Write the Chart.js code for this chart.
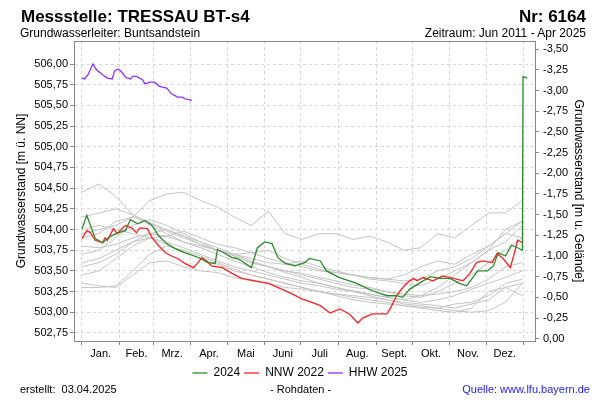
<!DOCTYPE html>
<html><head><meta charset="utf-8">
<script src="https://cdn.jsdelivr.net/npm/chart.js@4/dist/chart.umd.min.js"></script>
<style>
html,body{margin:0;padding:0;background:#fff;}
#wrap{position:relative;width:600px;height:400px;font-family:"Liberation Sans",Arial,sans-serif;color:#000;overflow:hidden;}
#c{position:absolute;left:0;top:0;}
.t{position:absolute;white-space:nowrap;line-height:1;}
</style></head><body>
<div id="wrap">
<canvas id="c" width="600" height="400"></canvas>
<div class="t" style="left:21px;top:8px;font-size:17px;font-weight:bold;">Messstelle: TRESSAU BT-s4</div>
<div class="t" style="right:14px;top:8px;font-size:17px;font-weight:bold;">Nr: 6164</div>
<div class="t" style="left:20px;top:27px;font-size:12px;">Grundwasserleiter: Buntsandstein</div>
<div class="t" style="right:14px;top:27px;font-size:12px;">Zeitraum: Jun 2011 - Apr 2025</div>
<div class="t" style="left:20px;top:384px;font-size:11px;">erstellt:&nbsp; 03.04.2025</div>
<div class="t" style="left:270px;top:384px;font-size:11px;">- Rohdaten -</div>
<div class="t" style="right:10px;top:384px;font-size:11px;color:#1a1aff;">Quelle: www.lfu.bayern.de</div>
</div>
<script>
// ---- categories / ticks ----
const months = ['Jan.','Feb.','Mrz.','Apr.','Mai','Juni','Juli','Aug.','Sept.','Okt.','Nov.','Dez.'];
const monthStarts = [0,31,59,90,120,151,181,212,243,273,304,334,365];
const leftTicks = [502.75,503.00,503.25,503.50,503.75,504.00,504.25,504.50,504.75,505.00,505.25,505.50,505.75,506.00];
const rightTicks = [0,-0.25,-0.5,-0.75,-1.0,-1.25,-1.5,-1.75,-2.0,-2.25,-2.5,-2.75,-3.0,-3.25,-3.5];
const groundLevel = 502.68;

// ---- series: 2024 ----
const days2024 = [0,4,11,17,21,25,30,36,40,46,52,58,63,70,77,85,93,98,104,110,112,117,124,128,132,140,145,151,157,162,168,176,184,188,197,202,213,227,240,252,260,265,271,282,288,296,304,312,318,323,327,335,340,344,350,355,360,364,364.5,368];
const level2024 = [504.01,504.17,503.89,503.84,503.89,503.93,503.96,503.99,504.12,504.07,504.11,504.05,503.93,503.83,503.77,503.72,503.68,503.65,503.60,503.59,503.76,503.72,503.66,503.65,503.62,503.54,503.78,503.85,503.83,503.66,503.59,503.56,503.60,503.65,503.62,503.50,503.42,503.35,503.26,503.20,503.20,503.18,503.28,503.38,503.43,503.41,503.41,503.35,503.32,503.42,503.50,503.50,503.56,503.72,503.68,503.81,503.78,503.75,505.85,505.83];

// ---- series: NNW 2022 ----
const days2022 = [0,4,7,11,17,19,21,26,29,33,36,41,45,48,54,58,63,69,74,79,85,92,96,99,103,107,116,124,132,143,154,165,174,182,186,197,205,213,221,228,232,240,252,255,260,263,269,274,277,282,290,298,307,315,321,326,331,339,343,348,354,358,360,364];
const level2022 = [503.89,503.99,503.96,503.87,503.84,503.90,503.87,504.01,503.95,504.01,504.05,504.02,503.96,504.02,504.01,503.90,503.81,503.72,503.68,503.65,503.59,503.54,503.60,503.66,503.62,503.56,503.54,503.47,503.41,503.38,503.35,503.28,503.22,503.16,503.14,503.08,502.99,503.04,502.98,502.87,502.93,502.98,502.98,503.05,503.20,503.26,503.36,503.41,503.38,503.42,503.38,503.44,503.41,503.38,503.48,503.60,503.62,503.60,503.71,503.65,503.54,503.75,503.87,503.84];

// ---- series: HHW 2025 ----
const days2025 = [0,2,5,9,12,17,21,25,27,30,33,36,40,42,45,50,52,56,60,64,70,74,79,83,85,91];
const level2025 = [505.83,505.82,505.87,506.00,505.93,505.87,505.83,505.82,505.92,505.94,505.90,505.84,505.82,505.85,505.85,505.81,505.76,505.78,505.78,505.73,505.71,505.64,505.60,505.60,505.58,505.56];

// ---- other years (grey), every 14 days ----
const greyDays = [0,14,28,42,56,70,84,98,112,126,140,154,168,182,196,210,224,238,252,266,280,294,308,322,336,350,364];
const greyA = [504.45,504.55,504.40,504.18,504.08,504.00,503.92,503.82,503.75,503.68,503.60,503.55,503.50,503.47,503.42,503.38,503.33,503.30,503.25,503.22,503.20,503.22,503.25,503.30,503.40,503.55,503.60];
const greyB = [503.95,504.00,504.05,504.15,504.35,504.43,504.45,504.35,504.27,504.15,504.05,504.22,503.95,503.88,503.95,503.95,503.88,503.92,503.85,503.75,503.78,503.95,503.90,504.05,504.20,504.20,504.35];
const greyC = [504.15,504.20,504.25,504.18,504.05,503.95,503.85,503.78,503.70,503.62,503.55,503.48,503.42,503.38,503.35,503.30,503.25,503.22,503.18,503.15,503.12,503.15,503.20,503.28,503.35,503.42,503.50];
const greyD = [503.90,503.95,504.10,504.15,504.08,503.98,503.90,503.82,503.75,503.68,503.60,503.55,503.50,503.45,503.40,503.35,503.30,503.28,503.25,503.20,503.18,503.25,503.35,503.45,503.60,503.75,503.90];
const greyE = [503.70,503.75,503.90,504.05,504.12,504.05,503.95,503.85,503.78,503.70,503.62,503.55,503.48,503.42,503.35,503.30,503.26,503.22,503.18,503.15,503.20,503.30,503.45,503.60,503.75,504.00,504.10];
const greyF = [503.55,503.60,503.70,503.85,503.95,504.00,503.92,503.85,503.75,503.70,503.65,503.60,503.58,503.62,503.55,503.50,503.45,503.42,503.40,503.45,503.55,503.62,503.58,503.70,503.80,503.95,503.90];
const greyG = [503.45,503.50,503.65,503.80,503.90,503.85,503.78,503.70,503.62,503.55,503.50,503.45,503.40,503.35,503.32,503.28,503.25,503.20,503.15,503.10,503.08,503.05,503.10,503.12,503.20,503.35,503.40];
const greyH = [503.30,503.30,503.32,503.50,503.70,503.80,503.75,503.68,503.60,503.52,503.45,503.40,503.35,503.30,503.25,503.22,503.18,503.15,503.12,503.08,503.05,503.02,503.00,503.05,503.25,503.30,503.20];
const greyI = [503.35,503.32,503.30,503.45,503.60,503.62,503.55,503.50,503.48,503.42,503.38,503.35,503.30,503.28,503.25,503.22,503.20,503.18,503.15,503.12,503.10,503.08,503.05,503.10,503.15,503.30,503.35];
const greyJ = [503.80,503.78,503.82,503.90,503.95,503.92,503.85,503.80,503.75,503.70,503.72,503.75,503.65,503.58,503.52,503.48,503.45,503.42,503.40,503.38,503.40,503.50,503.55,503.65,503.80,503.95,504.10];
const greyK = [503.60,503.65,503.75,503.85,503.90,503.82,503.72,503.65,503.58,503.50,503.45,503.40,503.35,503.30,503.25,503.20,503.15,503.12,503.10,503.08,503.06,503.05,503.02,503.00,503.02,503.12,503.35];
const greyL = [504.00,504.05,504.00,503.95,503.90,503.92,503.98,503.90,503.82,503.78,503.72,503.65,503.60,503.55,503.50,503.48,503.45,503.40,503.38,503.35,503.32,503.40,503.50,503.60,503.75,503.85,504.05];
const greySeries = [greyA,greyB,greyC,greyD,greyE,greyF,greyG,greyH,greyI,greyJ,greyK,greyL];

// ---- build ----
const pts = (xs, ys) => xs.map((x, i) => ({x: x, y: ys[i]}));
const fmt = v => (Math.abs(v) < 1e-9 ? 0 : v).toFixed(2).replace('.', ',');
const midMonths = monthStarts.slice(0, 12).map((s, i) => (s + monthStarts[i + 1]) / 2);
const xMin = -6.6, xMax = 374.4;
const yMin = 502.653, yMax = 506.278;

const datasets = [
  {label: '2024', data: pts(days2024, level2024), borderColor: '#2a8a2a', borderWidth: 1.3},
  {label: 'NNW 2022', data: pts(days2022, level2022), borderColor: '#ff2020', borderWidth: 1.3},
  {label: 'HHW 2025', data: pts(days2025, level2025), borderColor: '#9030ff', borderWidth: 1.3}
].concat(greySeries.map((g, i) => ({label: 'grey' + i, data: pts(greyDays, g), borderColor: '#c4c4c4', borderWidth: 1})));
datasets.forEach(d => { d.pointRadius = 0; d.tension = 0; d.fill = false; d.backgroundColor = d.borderColor; });

const tickFont = {family: "'Liberation Sans', Arial, sans-serif", size: 11};
const titleFont = {family: "'Liberation Sans', Arial, sans-serif", size: 12};

new Chart(document.getElementById('c'), {
  type: 'line',
  data: {datasets: datasets},
  options: {
    responsive: false,
    animation: false,
    devicePixelRatio: 1,
    layout: {padding: {top: 41, left: 0, right: 0, bottom: 11}, autoPadding: false},
    plugins: {
      legend: {
        position: 'bottom',
        labels: {
          filter: item => item.datasetIndex < 3,
          usePointStyle: true, pointStyle: 'line', pointStyleWidth: 15,
          font: {family: "'Liberation Sans', Arial, sans-serif", size: 12},
          color: '#000', padding: 4, boxHeight: 12
        }
      },
      tooltip: {enabled: false}
    },
    scales: {
      x: {
        type: 'linear', min: xMin, max: xMax,
        afterBuildTicks: s => { s.ticks = monthStarts.map(v => ({value: v})).concat(midMonths.map(v => ({value: v}))).sort((a, b) => a.value - b.value); },
        afterFit: s => { s.height = 22; s.paddingLeft = 0; s.paddingRight = 0; },
        ticks: {
          autoSkip: false, maxRotation: 0, padding: 2, font: tickFont, color: '#000',
          callback: v => { const i = midMonths.indexOf(v); return i >= 0 ? months[i] : ''; }
        },
        grid: {
          color: c => (c.tick && monthStarts.includes(c.tick.value)) ? '#d8d8d8' : 'rgba(0,0,0,0)',
          tickColor: c => (c.tick && monthStarts.includes(c.tick.value)) ? '#888' : 'rgba(0,0,0,0)',
          tickLength: 4, lineWidth: 1
        },
        border: {display: true, color: '#888', dash: [3, 3]}
      },
      y: {
        position: 'left', min: yMin, max: yMax,
        afterBuildTicks: s => { s.ticks = leftTicks.map(v => ({value: v})); },
        afterFit: s => { s.width = 74; s.paddingTop = 0; s.paddingBottom = 0; },
        ticks: {font: tickFont, color: '#000', padding: 2, callback: v => fmt(v)},
        grid: {color: '#d8d8d8', tickColor: '#888', tickLength: 4},
        border: {display: true, color: '#888', dash: [3, 3]},
        title: {display: true, text: 'Grundwasserstand [m ü. NN]', font: titleFont, color: '#000', padding: {top: 14, bottom: 0}}
      },
      y2: {
        position: 'right', reverse: true,
        min: groundLevel - yMax, max: groundLevel - yMin,
        afterBuildTicks: s => { s.ticks = rightTicks.map(v => ({value: v})); },
        afterFit: s => { s.width = 65; s.paddingTop = 0; s.paddingBottom = 0; },
        ticks: {font: tickFont, color: '#000', padding: 4, callback: v => fmt(v)},
        grid: {drawOnChartArea: false, tickColor: '#888', tickLength: 4},
        border: {display: true, color: '#888'},
        title: {display: true, text: 'Grundwasserstand [m u. Gelände]', font: titleFont, color: '#000', padding: {top: 14, bottom: 0}}
      }
    }
  },
  plugins: [{
    id: 'frameTop',
    afterDraw: ch => {
      const a = ch.chartArea, ctx = ch.ctx;
      ctx.save(); ctx.strokeStyle = '#888'; ctx.lineWidth = 1;
      ctx.beginPath(); ctx.moveTo(a.left, a.top + 0.5); ctx.lineTo(a.right, a.top + 0.5); ctx.stroke();
      ctx.restore();
    }
  }]
});
</script>
</body></html>
